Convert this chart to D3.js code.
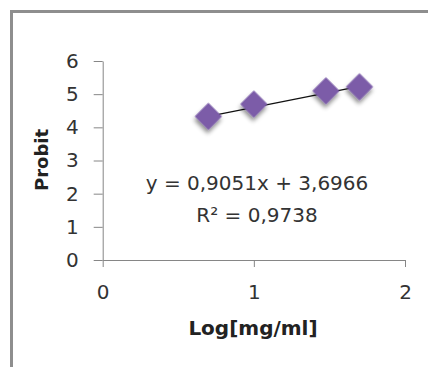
<!DOCTYPE html>
<html>
<head>
<meta charset="utf-8">
<script src="https://cdn.jsdelivr.net/npm/d3@7"></script>
<style>
  body { margin: 0; background: #fff; }
  .axis path, .axis line { stroke: #868686; }
  .axis text { fill: #333; }
</style>
</head>
<body>
<div class="chart-container"></div>
<script>
// data
const logConc = [0.699, 1.0, 1.477, 1.699];
const probit = [4.33, 4.70, 5.10, 5.22];
const xTicks = [0, 1, 2];
const yTicks = [0, 1, 2, 3, 4, 5, 6];
const trendSlope = 0.9051;
const trendIntercept = 3.6966;
const eqLines = ['y = 0,9051x + 3,6966', 'R² = 0,9738'];

const svg_width = 428;
const svg_height = 367;
const font = '"DejaVu Sans", sans-serif';

const svg = d3.select('.chart-container')
  .append('svg')
  .attr('width', svg_width)
  .attr('height', svg_height);

// drop shadow for the markers
const defs = svg.append('defs');
const flt = defs.append('filter')
  .attr('id', 'shadow')
  .attr('x', '-50%').attr('y', '-50%')
  .attr('width', '200%').attr('height', '200%');
flt.append('feDropShadow')
  .attr('dx', 2).attr('dy', 3)
  .attr('stdDeviation', 2)
  .attr('flood-color', '#000')
  .attr('flood-opacity', 0.45);

// outer frame (cut at right/bottom)
svg.append('rect')
  .attr('x', 11.5).attr('y', 11.5)
  .attr('width', 440).attr('height', 380)
  .attr('fill', 'none')
  .attr('stroke', '#8e8e8e')
  .attr('stroke-width', 3);

const xScale = d3.scaleLinear([0, 2], [102.7, 405]);
const yScale = d3.scaleLinear([0, 6], [260, 61]);

const xAxis = d3.axisBottom(xScale)
  .tickValues(xTicks)
  .tickFormat(d3.format('d'))
  .tickSizeInner(7)
  .tickSizeOuter(0)
  .tickPadding(18);
const xAxisDraw = svg.append('g')
  .attr('class', 'x axis')
  .attr('transform', `translate(0,${yScale(0)})`)
  .call(xAxis);

const yAxis = d3.axisLeft(yScale)
  .tickValues(yTicks)
  .tickFormat(d3.format('d'))
  .tickSizeInner(9)
  .tickSizeOuter(0)
  .tickPadding(15);
const yAxisDraw = svg.append('g')
  .attr('class', 'y axis')
  .attr('transform', `translate(${xScale(0)},0)`)
  .call(yAxis);

svg.selectAll('.axis')
  .attr('font-family', font)
  .attr('font-size', 20);

// trendline
const x0 = d3.min(logConc), x1 = d3.max(logConc);
svg.append('line')
  .attr('x1', xScale(x0))
  .attr('y1', yScale(trendSlope * x0 + trendIntercept))
  .attr('x2', xScale(x1))
  .attr('y2', yScale(trendSlope * x1 + trendIntercept))
  .attr('stroke', '#111')
  .attr('stroke-width', 1.3);

// diamond markers
const diamond = d3.symbol().type(d3.symbolSquare).size(370);
svg.selectAll('.pt')
  .data(logConc)
  .join('path')
  .attr('class', 'pt')
  .attr('d', diamond)
  .attr('transform', (d, i) => `translate(${xScale(d)},${yScale(probit[i])}) rotate(45)`)
  .attr('fill', '#7b5ca8')
  .attr('filter', 'url(#shadow)');

// equation label
svg.selectAll('.eq')
  .data(eqLines)
  .join('text')
  .attr('class', 'eq')
  .attr('x', 257)
  .attr('y', (d, i) => 190 + i * 31.5)
  .attr('text-anchor', 'middle')
  .attr('font-family', font)
  .attr('font-size', 20)
  .attr('fill', '#333')
  .text(d => d);

// axis titles
svg.append('text')
  .attr('transform', 'translate(48,160) rotate(-90)')
  .attr('text-anchor', 'middle')
  .attr('font-family', font)
  .attr('font-weight', 'bold')
  .attr('font-size', 18)
  .attr('fill', '#222')
  .text('Probit');

svg.append('text')
  .attr('x', 253)
  .attr('y', 335)
  .attr('text-anchor', 'middle')
  .attr('font-family', font)
  .attr('font-weight', 'bold')
  .attr('font-size', 20)
  .attr('fill', '#222')
  .text('Log[mg/ml]');
</script>
</body>
</html>
